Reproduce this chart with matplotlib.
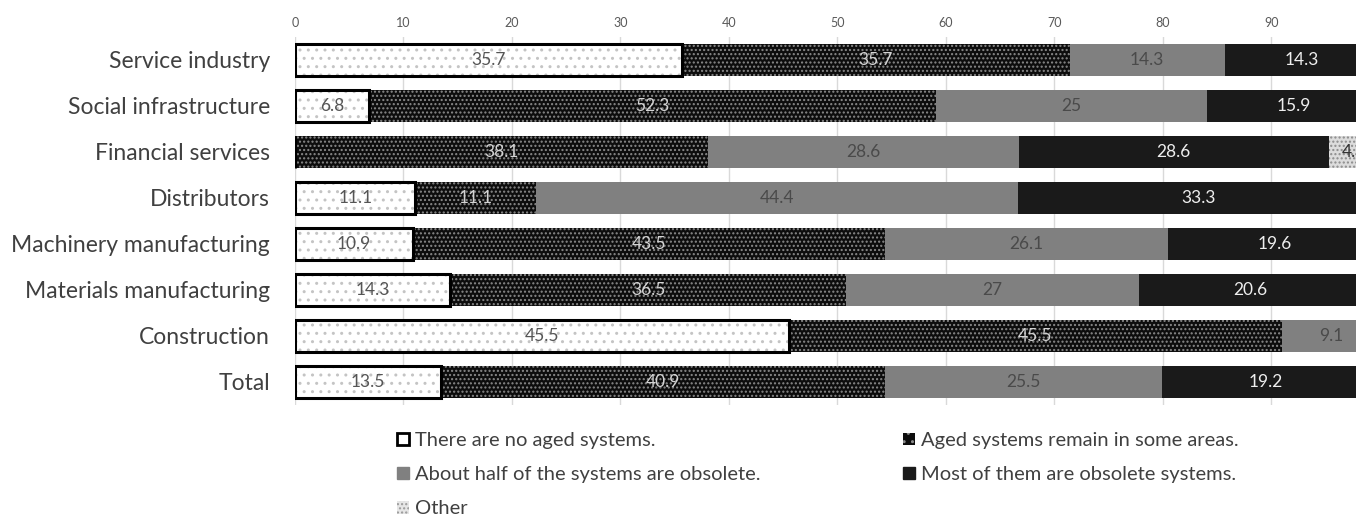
import matplotlib
matplotlib.use("Agg")
import matplotlib.pyplot as plt
from matplotlib.patches import Patch
import numpy as np

plt.rcParams['font.family'] = ['Lato', 'DejaVu Sans']

categories = ["Service industry", "Social infrastructure", "Financial services",
              "Distributors", "Machinery manufacturing", "Materials manufacturing",
              "Construction", "Total"]
no_aged = [35.7, 6.8, 0.0, 11.1, 10.9, 14.3, 45.5, 13.5]
some_aged = [35.7, 52.3, 38.1, 11.1, 43.5, 36.5, 45.5, 40.9]
half_obsolete = [14.3, 25.0, 28.6, 44.4, 26.1, 27.0, 9.1, 25.5]
most_obsolete = [14.3, 15.9, 28.6, 33.3, 19.6, 20.6, 0.0, 19.2]
other = [0.0, 0.0, 4.7, 0.0, 0.0, 0.0, 0.0, 0.0]
tick_values = [0, 10, 20, 30, 40, 50, 60, 70, 80, 90]

legend_labels = ["There are no aged systems.", "Aged systems remain in some areas.",
                 "About half of the systems are obsolete.", "Most of them are obsolete systems.",
                 "Other"]

plt.rcParams['hatch.linewidth'] = 1.0

fig = plt.figure(figsize=(13.65, 5.17), dpi=100)
ax = fig.add_axes([295 / 1365, 1 - 405 / 517, 1061 / 1365, 368 / 517])

y = np.arange(len(categories))[::-1]
h = 0.68

series = [no_aged, some_aged, half_obsolete, most_obsolete, other]
styles = [
    dict(color="white", hatch="..", hatchcol="#c4c4c4", text="#555555"),
    dict(color="#0d0d0d", hatch="....", hatchcol="#8a8a8a", text="#d4d4d4"),
    dict(color="#808080", hatch=None, hatchcol=None, text="#4a4a4a"),
    dict(color="#1a1a1a", hatch=None, hatchcol=None, text="#eeeeee"),
    dict(color="#dcdcdc", hatch="....", hatchcol="#8c8c8c", text="#333333"),
]

left = np.zeros(len(categories))
for vals, st in zip(series, styles):
    vals = np.array(vals, dtype=float)
    ax.barh(y, vals, left=left, height=h, color=st["color"],
            edgecolor=st["hatchcol"] if st["hatch"] else st["color"],
            hatch=st["hatch"], linewidth=0, zorder=2)
    if st is styles[0]:
        # thick black outline around the "no aged systems" segment
        ax.barh(y, vals, left=left, height=h, fill=False, edgecolor="black",
                linewidth=2.2, zorder=3)
    for yi, l, v in zip(y, left, vals):
        if v > 0:
            ax.text(l + v / 2, yi, f"{v:g}", ha="center", va="center",
                    fontsize=12.5, color=st["text"], zorder=4, clip_on=True)
    left += vals

ax.set_xlim(0, 97.8)
ax.set_ylim(-0.5, len(categories) - 0.5)
ax.set_xticks(tick_values)
ax.xaxis.tick_top()
ax.tick_params(axis="x", length=0, labelsize=9, labelcolor="#595959", pad=6)
ax.set_yticks(y)
ax.set_yticklabels(categories, fontsize=16.5, color="#404040")
ax.tick_params(axis="y", length=0, pad=18)
ax.grid(axis="x", color="#d9d9d9", linewidth=1, zorder=0)
ax.set_axisbelow(True)
for s in ax.spines.values():
    s.set_visible(False)

handles = [
    Patch(facecolor="white", edgecolor="black", linewidth=2.0),
    Patch(facecolor="#0d0d0d", edgecolor="#8a8a8a", hatch="..", linewidth=0),
    Patch(facecolor="#808080", edgecolor="#808080"),
    Patch(facecolor="#1a1a1a", edgecolor="#1a1a1a"),
    Patch(facecolor="#e6e6e6", edgecolor="#9a9a9a", hatch="....", linewidth=0),
]

leg_kw = dict(frameon=False, fontsize=14.5, handlelength=0.6, handleheight=0.6,
              handletextpad=0.3, labelspacing=0.85, labelcolor="#404040",
              borderaxespad=0, borderpad=0)
leg1 = fig.legend([handles[0], handles[2], handles[4]],
                  [legend_labels[0], legend_labels[2], legend_labels[4]],
                  loc="upper left", bbox_to_anchor=(397 / 1365, 1 - 432 / 517), **leg_kw)
leg2 = fig.legend([handles[1], handles[3]],
                  [legend_labels[1], legend_labels[3]],
                  loc="upper left", bbox_to_anchor=(903 / 1365, 1 - 432 / 517), **leg_kw)

fig.savefig("out.png", dpi=100)
